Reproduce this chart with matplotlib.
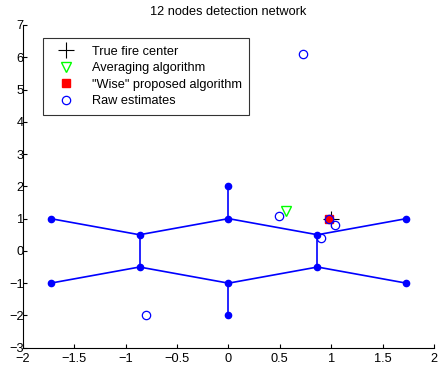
import numpy as np
import matplotlib
matplotlib.use("Agg")
import matplotlib.pyplot as plt

plt.rcParams['font.family'] = ['Liberation Sans', 'DejaVu Sans']

# sensor node positions (hexagonal layout, 12 nodes)
s3 = np.sqrt(3)
node_x = [-s3, -s3/2, 0, s3/2, s3, -s3, -s3/2, 0, s3/2, s3, 0, 0]
node_y = [1, 0.5, 1, 0.5, 1, -1, -0.5, -1, -0.5, -1, 2, -2]

# links between nodes (index pairs)
edges = [(0, 1), (1, 2), (2, 3), (3, 4),
         (5, 6), (6, 7), (7, 8), (8, 9),
         (1, 6), (3, 8), (2, 10), (7, 11)]

fire_x, fire_y = 1.0, 1.0
avg_x, avg_y = 0.56, 1.24
wise_x, wise_y = 0.98, 1.0

raw_x = [0.725, 0.49, 1.04, 0.90, -0.80, 0.98]
raw_y = [6.1, 1.07, 0.81, 0.40, -2.0, 1.0]

fig = plt.figure(figsize=(4.39, 3.66), dpi=100)
ax = fig.add_axes([0.0524, 0.05, 0.9362, 0.8817])

for a, b in edges:
    ax.plot([node_x[a], node_x[b]], [node_y[a], node_y[b]], color='blue', lw=1.2, zorder=1)
ax.plot(node_x, node_y, 'o', color='blue', markersize=4.5, zorder=2)

h1, = ax.plot(fire_x, fire_y, '+', color='black', markersize=11, mew=0.8, zorder=3)
h2, = ax.plot(avg_x, avg_y, 'v', mfc='none', mec='#00ff00', markersize=6.5, mew=1, zorder=3)
h3, = ax.plot(wise_x, wise_y, 's', mfc='red', mec='red', markersize=6, zorder=3)
h4, = ax.plot(raw_x, raw_y, 'o', mfc='none', mec='blue', markersize=6, mew=0.9, zorder=4)

ax.set_xlim(-2, 2)
ax.set_ylim(-3, 7)
ax.set_xticks(np.arange(-2, 2.01, 0.5))
ax.set_xticklabels(['\u22122', '\u22121.5', '\u22121', '\u22120.5', '0', '0.5', '1', '1.5', '2'])
ax.set_yticks(range(-3, 8))
ax.set_yticklabels([str(v).replace('-', '\u2212') for v in range(-3, 8)])
ax.tick_params(direction='in', labelsize=9.2, length=3)
ax.tick_params(axis='x', pad=4.0)
ax.tick_params(axis='y', pad=-0.5)
ax.spines['top'].set_visible(False)
ax.spines['right'].set_visible(False)
ax.set_title('12 nodes detection network', fontsize=9.2, pad=7)

leg = ax.legend([h1, h2, h3, h4],
                ['True fire center', 'Averaging algorithm', '"Wise" proposed algorithm', 'Raw estimates'],
                loc='upper left', bbox_to_anchor=(0.049, 0.96), fontsize=9.2, frameon=True,
                fancybox=False, edgecolor='black', handlelength=2.4, handletextpad=0.8,
                borderpad=0.6, labelspacing=0.36, borderaxespad=0)
leg.get_frame().set_linewidth(0.8)

fig.savefig('out.png', dpi=100)
